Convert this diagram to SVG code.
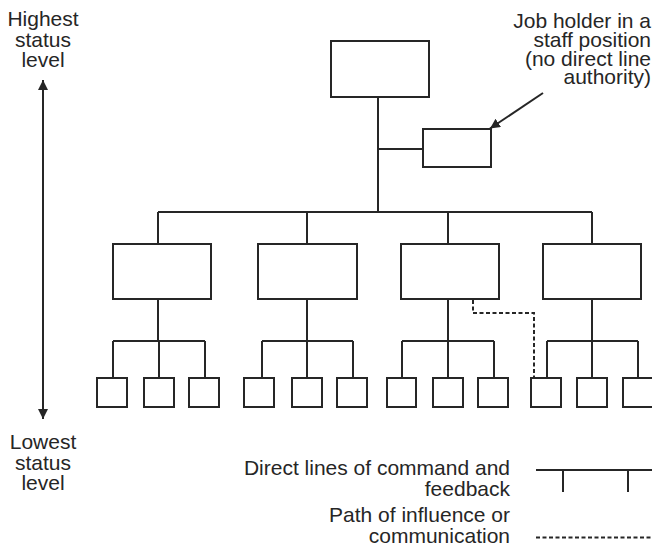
<svg xmlns="http://www.w3.org/2000/svg" width="652" height="548" viewBox="0 0 652 548">
  <style>
    .box { fill: #ffffff; stroke: #262626; stroke-width: 2; }
    .line { fill: none; stroke: #262626; stroke-width: 2; }
    .dash { fill: none; stroke: #262626; stroke-width: 2; stroke-dasharray: 4 2.5; }
    .lbl { font-family: "Liberation Sans", Arial, sans-serif; font-size: 21px; fill: #262626; }
    .mid { text-anchor: middle; }
    .end { text-anchor: end; }
  </style>
  <defs>
    <marker id="head" viewBox="0 0 10 10" refX="10" refY="5" markerWidth="10" markerHeight="10" markerUnits="userSpaceOnUse" orient="auto-start-reverse">
      <path d="M0,0 L10,5 L0,10 Z" fill="#262626"/>
    </marker>
  </defs>

  <!-- status scale -->
  <g id="status-scale">
    <line class="line" x1="43" y1="80" x2="43" y2="419" marker-start="url(#head)" marker-end="url(#head)"/>
    <text class="lbl mid" x="43" y="26">Highest</text>
    <text class="lbl mid" x="43" y="46.5">status</text>
    <text class="lbl mid" x="43" y="67">level</text>
    <text class="lbl mid" x="43" y="449">Lowest</text>
    <text class="lbl mid" x="43" y="469.5">status</text>
    <text class="lbl mid" x="43" y="490">level</text>
  </g>

  <!-- connectors -->
  <g id="connectors">
    <!-- top to bus, staff branch -->
    <path class="line" d="M378,97 V212 M378,149 H423 M158,212 H592 M158,212 V244 M307,212 V244 M448,212 V244 M592,212 V244"/>
    <!-- group 1 -->
    <path class="line" d="M158,299 V341 M113,341 H205 M113,341 V378 M159,341 V378 M205,341 V378"/>
    <!-- group 2 -->
    <path class="line" d="M307,299 V341 M262,341 H353 M262,341 V378 M307,341 V378 M353,341 V378"/>
    <!-- group 3 -->
    <path class="line" d="M448,299 V341 M402,341 H494 M402,341 V378 M448,341 V378 M494,341 V378"/>
    <!-- group 4 -->
    <path class="line" d="M592,299 V341 M547,341 H638 M547,341 V378 M592,341 V378 M638,341 V378"/>
    <!-- influence path -->
    <path class="dash" d="M473,300 V313 H534 V378"/>
    <!-- staff callout -->
    <line class="line" x1="543" y1="93" x2="490" y2="128.5" marker-end="url(#head)"/>
  </g>

  <!-- nodes -->
  <g id="top"><rect class="box" x="331" y="41" width="98" height="56"/></g>
  <g id="staff"><rect class="box" x="423" y="129" width="68" height="38"/></g>

  <g id="mgr1"><rect class="box" x="113" y="244" width="98" height="55"/></g>
  <g id="mgr2"><rect class="box" x="258" y="244" width="99" height="55"/></g>
  <g id="mgr3"><rect class="box" x="401" y="244" width="98" height="55"/></g>
  <g id="mgr4"><rect class="box" x="543" y="244" width="98" height="55"/></g>

  <g id="sub1a"><rect class="box" x="97" y="378" width="30" height="29"/></g>
  <g id="sub1b"><rect class="box" x="144" y="378" width="30" height="29"/></g>
  <g id="sub1c"><rect class="box" x="189" y="378" width="30" height="29"/></g>
  <g id="sub2a"><rect class="box" x="244" y="378" width="30" height="29"/></g>
  <g id="sub2b"><rect class="box" x="292" y="378" width="30" height="29"/></g>
  <g id="sub2c"><rect class="box" x="337" y="378" width="30" height="29"/></g>
  <g id="sub3a"><rect class="box" x="387" y="378" width="29" height="29"/></g>
  <g id="sub3b"><rect class="box" x="433" y="378" width="30" height="29"/></g>
  <g id="sub3c"><rect class="box" x="478" y="378" width="30" height="29"/></g>
  <g id="sub4a"><rect class="box" x="531" y="378" width="30" height="29"/></g>
  <g id="sub4b"><rect class="box" x="577" y="378" width="30" height="29"/></g>
  <g id="sub4c"><rect class="box" x="623" y="378" width="30" height="29"/></g>

  <!-- staff label -->
  <g id="staff-label">
    <text class="lbl end" x="651" y="27.5">Job holder in a</text>
    <text class="lbl end" x="651" y="46.5">staff position</text>
    <text class="lbl end" x="651" y="65.5">(no direct line</text>
    <text class="lbl end" x="651" y="84">authority)</text>
  </g>

  <!-- legend -->
  <g id="legend">
    <text class="lbl end" x="510" y="475">Direct lines of command and</text>
    <text class="lbl end" x="510" y="496">feedback</text>
    <text class="lbl end" x="510" y="521.5">Path of influence or</text>
    <text class="lbl end" x="510" y="542.5">communication</text>
    <path class="line" d="M536,470 H652 M563,470 V492 M628,470 V492"/>
    <line class="dash" x1="536" y1="537.5" x2="652" y2="537.5"/>
  </g>
</svg>
